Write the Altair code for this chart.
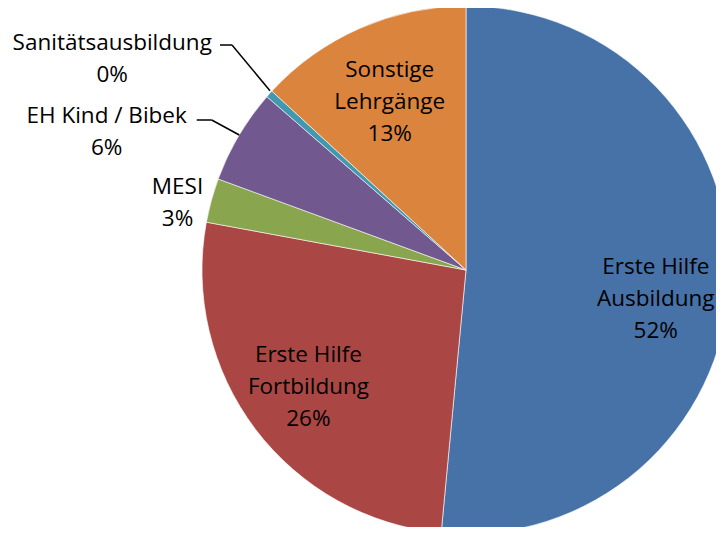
import math
import altair as alt
import pandas as pd

categories = ["Erste Hilfe Ausbildung", "Erste Hilfe Fortbildung", "MESI",
              "EH Kind / Bibek", "Sanitätsausbildung", "Sonstige Lehrgänge"]
label_names = ["Erste Hilfe\nAusbildung", "Erste Hilfe\nFortbildung", "MESI",
               "EH Kind / Bibek", "Sanitätsausbildung", "Sonstige\nLehrgänge"]
shares = [51.5, 26.4, 2.7, 5.8, 0.45, 13.15]
colors = ["#4672A8", "#AA4744", "#89A54E", "#71588F", "#4198AF", "#DB843D"]

df = pd.DataFrame({"category": categories, "share": shares, "order": list(range(len(categories)))})
df["label"] = [f"{n}\n{s:.0f}%" for n, s in zip(label_names, shares)]
df["mid"] = df["share"].cumsum() - df["share"] / 2

W, H = 708, 519
CX, CY, R = 458, 262, 264
FONT = "Open Sans"

theta_scale = alt.Scale(domain=[0, 100], range=[0, 2 * math.pi])
color_scale = alt.Scale(domain=categories, range=colors)

base = alt.Chart(df)

pie = base.mark_arc(radius=R, stroke="#ffffff", strokeWidth=0.6).encode(
    theta=alt.Theta("share:Q", stack=True, scale=theta_scale),
    order=alt.Order("order:Q"),
    color=alt.Color("category:N", scale=color_scale, legend=None),
    x=alt.value(CX), y=alt.value(CY),
)

# label placement (radius from centre, pixel nudges of the first text line)
placement = {
    "Erste Hilfe Ausbildung": (190, 0, -12),
    "Erste Hilfe Fortbildung": (190, -6, -30),
    "MESI": (297, -2, -5),
    "EH Kind / Bibek": (385, -28, 42),
    "Sanitätsausbildung": (385, -67, 30),
    "Sonstige Lehrgänge": (190, 0, -26),
}

text_layers = []
for cat, (rad, dx, dy) in placement.items():
    text_layers.append(
        base.transform_filter(alt.datum.category == cat).mark_text(
            radius=rad, dx=dx, dy=dy, font=FONT, fontSize=22.5, lineHeight=32,
            lineBreak="\n", align="center", baseline="middle", color="#000000",
        ).encode(
            theta=alt.Theta("mid:Q", scale=theta_scale),
            text="label:N",
            x=alt.value(CX), y=alt.value(CY),
        )
    )

one = alt.Data(values=[{"a": 1}])
def seg(x1, y1, x2, y2):
    return alt.Chart(one).mark_rule(color="#000000", strokeWidth=1.5).encode(
        x=alt.value(x1), y=alt.value(y1), x2=alt.value(x2), y2=alt.value(y2)
    )

leaders = [
    seg(212, 37, 224, 37), seg(224, 37, 262, 82.7),
    seg(188.7, 112, 203.7, 112), seg(203.7, 112, 231.3, 127),
]

chart = alt.layer(pie, *text_layers, *leaders).properties(
    width=W, height=H, padding=0,
    autosize=alt.AutoSizeParams(type="none"),
).configure_view(stroke=None)

chart.save("out.html", embed_options={"renderer": "svg", "actions": False})
